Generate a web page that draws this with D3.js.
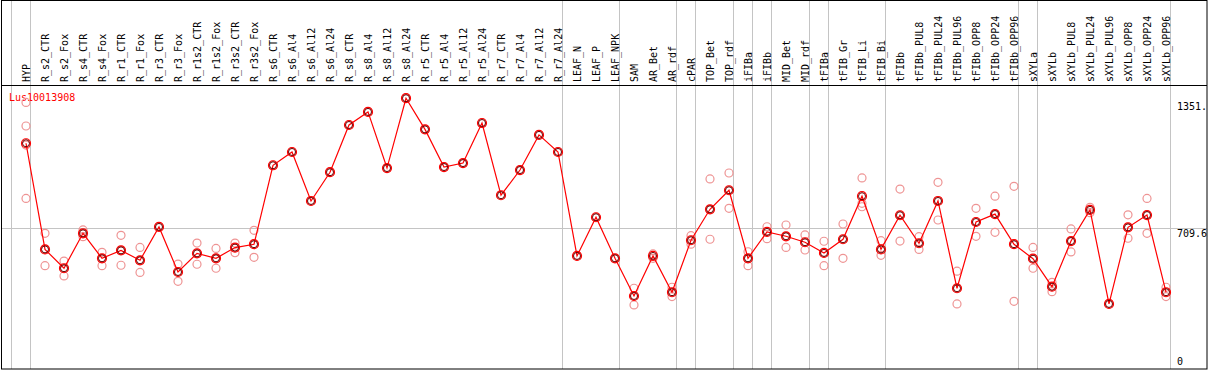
<!DOCTYPE html>
<html>
<head>
  <meta charset="UTF-8">
  <style>
    body { margin: 0; background: #fff; }
    svg { display: block; }
    text { font-family: "DejaVu Sans Mono", monospace; font-size: 10px; }
  </style>
</head>
<body>
<svg></svg>
<script src="https://d3js.org/d3.v7.min.js"></script>
<script>

let width = 1209, height = 370;

// Sample names along the top
let samples = ["HYP", "R_s2_CTR", "R_s2_Fox", "R_s4_CTR", "R_s4_Fox", "R_r1_CTR", "R_r1_Fox",
  "R_r3_CTR", "R_r3_Fox", "R_r1s2_CTR", "R_r1s2_Fox", "R_r3s2_CTR", "R_r3s2_Fox",
  "R_s6_CTR", "R_s6_Al4", "R_s6_Al12", "R_s6_Al24", "R_s8_CTR", "R_s8_Al4", "R_s8_Al12", "R_s8_Al24",
  "R_r5_CTR", "R_r5_Al4", "R_r5_Al12", "R_r5_Al24", "R_r7_CTR", "R_r7_Al4", "R_r7_Al12", "R_r7_Al24",
  "LEAF_N", "LEAF_P", "LEAF_NPK", "SAM", "AR_Bet", "AR_rdf", "cPAR", "TOP_Bet", "TOP_rdf",
  "iFIBa", "iFIBb", "MID_Bet", "MID_rdf", "tFIBa", "tFIB_Gr", "tFIB_Li", "tFIB_Bi",
  "tFIBb", "tFIBb_PUL8", "tFIBb_PUL24", "tFIBb_PUL96", "tFIBb_OPP8", "tFIBb_OPP24", "tFIBb_OPP96",
  "sXYLa", "sXYLb", "sXYLb_PUL8", "sXYLb_PUL24", "sXYLb_PUL96", "sXYLb_OPP8", "sXYLb_OPP24", "sXYLb_OPP96"];

// mean expression per sample
let means = [1138, 603, 508, 684, 558, 598, 548, 716, 489, 583, 558, 612, 629,
  1027, 1094, 847, 992, 1230, 1296, 1013, 1365, 1208, 1018, 1038, 1240, 876, 1003, 1180, 1094,
  570, 765, 558, 368, 570, 387, 649, 805, 901, 558, 691, 669, 639, 585, 654, 871, 603,
  775, 634, 847, 407, 741, 781, 629, 556, 415, 645, 802, 328, 714, 776, 387];

// replicate values per sample
let reps = [[1344, 1225, 1129, 860], [684, 603, 521], [544, 508, 469], [701, 684, 667],
  [588, 558, 521], [674, 598, 523], [613, 548, 487], [716], [529, 489, 442],
  [635, 583, 528], [608, 558, 508], [635, 612, 586], [699, 629, 563],
  [1027], [1094], [847], [992], [1230], [1296], [1013], [1365], [1208], [1018], [1038], [1240],
  [876], [1003], [1180], [1094], [570], [765], [558],
  [407, 368, 323], [580, 558], [412, 387, 365], [672, 649, 629], [958, 805, 654], [988, 901, 810],
  [591, 558, 521], [717, 691, 657], [726, 669, 613], [676, 639, 600], [644, 585, 521],
  [731, 654, 558], [963, 835, 818], [647, 603, 573], [907, 775, 645], [667, 634, 603],
  [941, 847, 751], [493, 407, 328], [810, 741, 669], [871, 781, 689], [921, 629, 341],
  [613, 556, 508], [437, 415, 390], [706, 645, 590], [815, 802, 788], [328],
  [777, 714, 659], [860, 776, 684], [412, 387, 365]];

// index of first sample in each group (separator lines)
let groupStarts = [0, 1, 29, 32, 35, 36, 38, 39, 40, 42, 43, 46, 53, 54, 61];

let yTicks = [1351, 709.6, 0];
let yTickLabels = ["1351.", "709.6", "0"];
let geneName = "Lus10013908";

let svg = d3.select("svg")
    .attr("width", width)
    .attr("height", height);

let x = d3.scaleLinear().domain([0, samples.length - 1]).range([26, 1166]);
let y = d3.scaleLinear().domain([0, 1351]).range([369, 101]);

svg.append("rect")
    .attr("width", width).attr("height", height)
    .attr("fill", "white");

// group separators
svg.append("g")
  .selectAll("line")
  .data(groupStarts)
  .enter()
  .append("line")
    .attr("x1", d => x(d) - 14.5).attr("x2", d => x(d) - 14.5)
    .attr("y1", 0).attr("y2", 369)
    .attr("stroke", "#c4c4c4");

// midline at 709.6
svg.append("line")
    .attr("x1", 1).attr("x2", 1207)
    .attr("y1", Math.round(y(709.6)) + 0.5).attr("y2", Math.round(y(709.6)) + 0.5)
    .attr("stroke", "#c4c4c4");

// frame
svg.append("rect")
    .attr("x", 1.5).attr("y", 0.5)
    .attr("width", 1205.5).attr("height", 368.5)
    .attr("fill", "none").attr("stroke", "black");
svg.append("line")
    .attr("x1", 1).attr("x2", 1207)
    .attr("y1", 85.5).attr("y2", 85.5)
    .attr("stroke", "black");

// sample labels
svg.append("g")
  .selectAll("text")
  .data(samples)
  .enter()
  .append("text")
    .attr("transform", (d, i) => "translate(" + (x(i) + 3.5) + ",82) rotate(-90)")
    .attr("fill", "black")
    .text(d => d);

// y labels
svg.append("g")
  .selectAll("text")
  .data(yTicks)
  .enter()
  .append("text")
    .attr("x", 1177)
    .attr("y", d => d == 0 ? 365 : y(d) + 9)
    .attr("fill", "black")
    .text((d, i) => yTickLabels[i]);

svg.append("text")
    .attr("x", 9).attr("y", 101)
    .attr("fill", "red")
    .text(geneName);

// replicate points
let repPts = [];
reps.forEach((r, i) => r.forEach(v => repPts.push({i: i, v: v})));

svg.append("g")
  .selectAll("circle")
  .data(repPts)
  .enter()
  .append("circle")
    .attr("cx", d => x(d.i))
    .attr("cy", d => y(d.v))
    .attr("r", 4)
    .attr("fill", "none")
    .attr("stroke", "#ee9494")
    .attr("stroke-width", 1.2);

// mean line
let line = d3.line()
    .x((d, i) => x(i))
    .y(d => y(d));

svg.append("path")
    .datum(means)
    .attr("d", line)
    .attr("fill", "none")
    .attr("stroke", "red")
    .attr("stroke-width", 1.2);

let meanG = svg.append("g")
  .selectAll("g")
  .data(means)
  .enter()
  .append("g")
    .attr("transform", (d, i) => "translate(" + x(i) + "," + y(d) + ")");

meanG.append("circle")
    .attr("r", 4.5)
    .attr("fill", "none")
    .attr("stroke", "red")
    .attr("stroke-width", 1.2);
meanG.append("circle")
    .attr("r", 3.5)
    .attr("fill", "none")
    .attr("stroke", "#600")
    .attr("stroke-width", 1);

</script>
</body>
</html>
